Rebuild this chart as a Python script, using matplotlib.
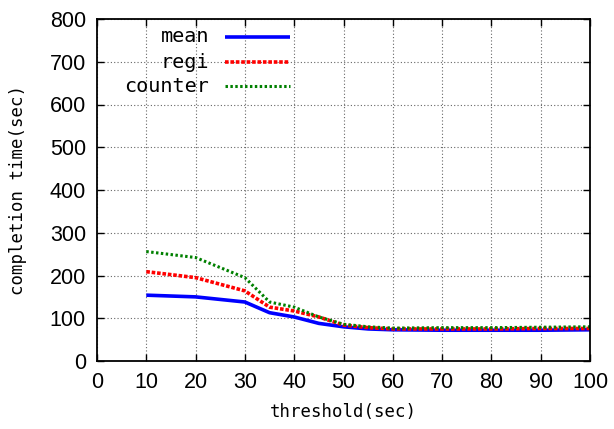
import matplotlib
matplotlib.use("Agg")
import matplotlib.pyplot as plt
from matplotlib import font_manager

thresholds = [10, 20, 30, 35, 40, 45, 50, 55, 60, 70, 80, 90, 100]
mean_vals = [154, 150, 138, 113, 103, 88, 80, 75, 73, 72, 72, 72, 73]
regi_vals = [209, 195, 164, 126, 117, 103, 84, 78, 75, 75, 75, 76, 76]
counter_vals = [256, 242, 195, 138, 126, 103, 86, 80, 77, 78, 78, 79, 80]
series_names = ["mean", "regi", "counter"]
xticks = list(range(0, 101, 10))
yticks = list(range(0, 801, 100))

names = {f.name for f in font_manager.fontManager.ttflist}
tick_font = "Liberation Sans Narrow" if "Liberation Sans Narrow" in names else "Liberation Sans"
tick_size = 17 if tick_font == "Liberation Sans Narrow" else 15.5

fig = plt.figure(figsize=(6.14, 4.29), dpi=100)
ax = fig.add_axes([97/614, 1-361/429, (590-97)/614, (361-19)/429])

styles = [
    dict(color="#0000ff", lw=2.6, linestyle="-"),
    dict(color="#ff0000", lw=2.6, linestyle=(0, (1.0, 0.5))),
    dict(color="#008000", lw=2.2, linestyle=(0, (0.8, 0.8))),
]
for vals, st in zip([mean_vals, regi_vals, counter_vals], styles):
    ax.plot(thresholds, vals, solid_capstyle="butt", dash_capstyle="butt", **st)

ax.set_xlim(0, 100)
ax.set_ylim(0, 800)
ax.set_xticks(xticks)
ax.set_yticks(yticks)
ax.tick_params(direction="in", top=True, right=True, length=5, width=1, pad=8)
for lab in ax.get_xticklabels() + ax.get_yticklabels():
    lab.set_fontfamily(tick_font)
    lab.set_fontsize(tick_size)
ax.grid(True, linestyle=(0, (1, 2)), color="#666666", lw=0.8)
for s in ax.spines.values():
    s.set_linewidth(1.3)

ax.set_xlabel("threshold(sec)", family="DejaVu Sans Mono", fontsize=12.5, labelpad=7)
ax.set_ylabel("completion time(sec)", family="DejaVu Sans Mono", fontsize=12.5, labelpad=16)

# gnuplot-style key: right-aligned text, then line sample
inv = ax.transAxes.inverted()
ys = [37, 62, 86]
for name, st, ypx in zip(series_names, styles, ys):
    xa, ya = inv.transform(fig.transFigure.transform((209/614, 1-ypx/429)))
    xs, _ = inv.transform(fig.transFigure.transform((225/614, 0)))
    xe, _ = inv.transform(fig.transFigure.transform((290/614, 0)))
    ax.text(xa, ya, name, transform=ax.transAxes, ha="right", va="center",
            family="DejaVu Sans Mono", fontsize=14.5)
    ax.plot([xs, xe], [ya, ya], transform=ax.transAxes, clip_on=False,
            solid_capstyle="butt", dash_capstyle="butt", **st)

fig.savefig("out.png", dpi=100)
